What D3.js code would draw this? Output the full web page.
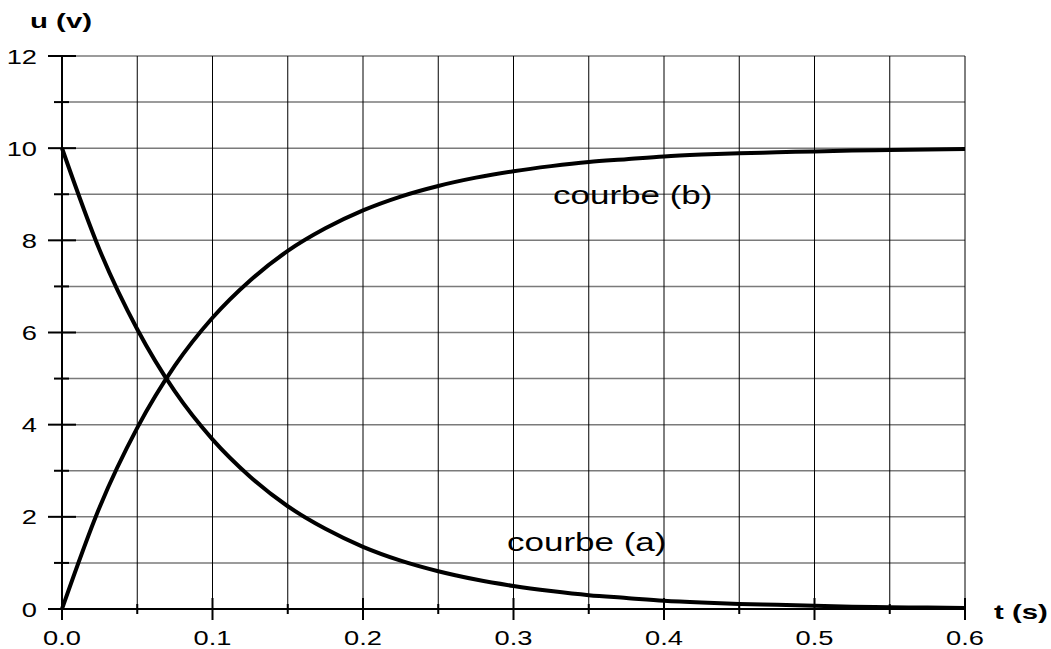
<!DOCTYPE html>
<html><head><meta charset="utf-8">
<script src="https://cdn.jsdelivr.net/npm/d3@7"></script>
<style>
html,body{margin:0;padding:0;background:#fff;}
text{font-family:"Liberation Sans",Arial,sans-serif;}
</style></head>
<body>
<svg id="chart" width="1051" height="649"></svg>
<script>
const tValues = [0,0.025,0.05,0.075,0.1,0.125,0.15,0.175,0.2,0.225,0.25,0.275,0.3,0.325,0.35,0.375,0.4,0.425,0.45,0.475,0.5,0.525,0.55,0.575,0.6];
const courbeA = [10,7.79,6.07,4.72,3.68,2.87,2.23,1.74,1.35,1.05,0.82,0.64,0.50,0.39,0.30,0.24,0.18,0.14,0.11,0.09,0.07,0.05,0.04,0.03,0.02];
const courbeB = [0,2.21,3.93,5.28,6.32,7.13,7.77,8.26,8.65,8.95,9.18,9.36,9.50,9.61,9.70,9.76,9.82,9.86,9.89,9.91,9.93,9.95,9.96,9.97,9.98];
const xTickLabels = ["0.0","0.1","0.2","0.3","0.4","0.5","0.6"];
const yTickLabels = ["0","2","4","6","8","10","12"];

const svg = d3.select("#chart");
const x = d3.scaleLinear().domain([0,0.6]).range([62,965]);
const y = d3.scaleLinear().domain([0,12]).range([609,56]);

// horizontal grid (every 1)
const hGrid = d3.range(1,13);
svg.append("g").selectAll("line").data(hGrid).join("line")
  .attr("x1",x(0)).attr("x2",x(0.6))
  .attr("y1",d=>y(d)).attr("y2",d=>y(d))
  .attr("stroke","#7a7a7a").attr("stroke-width",1.5);

// vertical grid (every 0.05)
const vGrid = d3.range(1,13).map(i=>i*0.05);
svg.append("g").selectAll("line").data(vGrid).join("line")
  .attr("x1",d=>x(d)).attr("x2",d=>x(d))
  .attr("y1",y(0)).attr("y2",y(12))
  .attr("stroke","#000").attr("stroke-width",1);

// axis lines
svg.append("line").attr("x1",x(0)).attr("x2",x(0)).attr("y1",y(0)).attr("y2",y(12))
  .attr("stroke","#000").attr("stroke-width",2);
svg.append("line").attr("x1",x(0)).attr("x2",x(0.6)).attr("y1",y(0)).attr("y2",y(0))
  .attr("stroke","#000").attr("stroke-width",2);

// y ticks
svg.append("g").selectAll("line").data(d3.range(0,13)).join("line")
  .attr("x1",d=>d%2===0?48:54).attr("x2",d=>d%2===0?76:69)
  .attr("y1",d=>y(d)).attr("y2",d=>y(d))
  .attr("stroke","#000").attr("stroke-width",2);
// x ticks
svg.append("g").selectAll("line").data(d3.range(0,13).map(i=>i*0.05)).join("line")
  .attr("x1",d=>x(d)).attr("x2",d=>x(d))
  .attr("y1",(d,i)=>i===0?y(0):(i%2===0?598:604))
  .attr("y2",(d,i)=>i%2===0?620:614)
  .attr("stroke","#000").attr("stroke-width",2);

// tick labels (horizontally stretched as in the reference)
svg.append("g").selectAll("text").data(yTickLabels).join("text")
  .attr("transform",d=>`translate(37,${y(+d)}) scale(1.3,1)`).attr("dy","0.36em")
  .attr("text-anchor","end").attr("font-size",21).text(d=>d);
svg.append("g").selectAll("text").data(xTickLabels).join("text")
  .attr("transform",d=>`translate(${x(+d)},645) scale(1.3,1)`)
  .attr("text-anchor","middle").attr("font-size",21).text(d=>d);

// axis titles
svg.append("text").attr("transform","translate(30,28) scale(1.4,1)").attr("font-size",21).attr("font-weight","bold").text("u (v)");
svg.append("text").attr("transform","translate(994,619) scale(1.4,1)").attr("font-size",21).attr("font-weight","bold").text("t (s)");

// curves
const line = d3.line().x(d=>x(d[0])).y(d=>y(d[1])).curve(d3.curveMonotoneX);
svg.append("path").datum(tValues.map((t,i)=>[t,courbeA[i]]))
  .attr("d",line).attr("fill","none").attr("stroke","#000").attr("stroke-width",4);
svg.append("path").datum(tValues.map((t,i)=>[t,courbeB[i]]))
  .attr("d",line).attr("fill","none").attr("stroke","#000").attr("stroke-width",4);

// labels
svg.append("text").attr("transform","translate(553,204) scale(1.4,1)").attr("font-size",25).text("courbe (b)");
svg.append("text").attr("transform","translate(507,551) scale(1.4,1)").attr("font-size",25).text("courbe (a)");
</script>
</body></html>
